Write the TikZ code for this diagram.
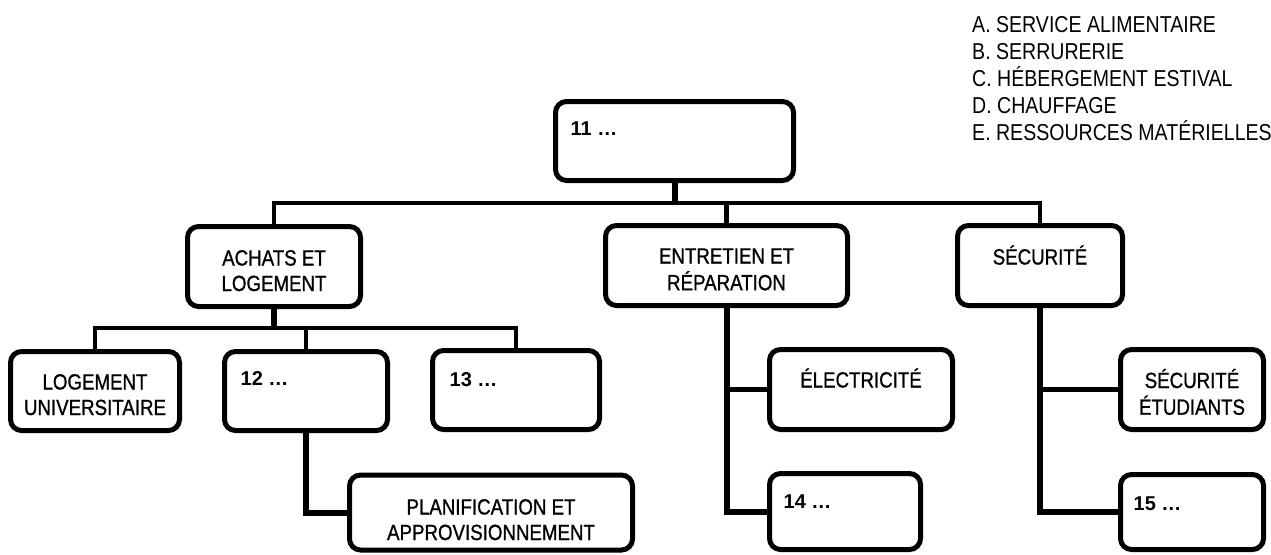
\documentclass[tikz,border=0pt]{standalone}
\usepackage{fontspec}
\setmainfont{Liberation Sans}
\newfontfamily\narrowfont[FakeStretch=0.85]{Liberation Sans}
\newfontfamily\labelfont[FakeStretch=0.85,FakeBold=0.9]{Liberation Sans}
\usetikzlibrary{calc}
\tikzset{
  orgbox/.style={draw=black, line width=5pt, rounded corners=11pt, inner sep=0pt, fill=white},
  conn/.style={draw=black, line width=4.5pt},
  thickconn/.style={draw=black, line width=6pt},
  lbl/.style={inner sep=0pt, anchor=base, align=center, font=\labelfont\fontsize{22}{25.5}\selectfont},
  num/.style={inner sep=0pt, anchor=base west, font=\bfseries\fontsize{20}{24}\selectfont},
  legendtext/.style={inner sep=0pt, anchor=base west, font=\narrowfont\fontsize{23}{27}\selectfont},
}
\newcommand{\twolines}[2]{\begin{tabular}[t]{@{}c@{}}#1\\#2\end{tabular}}
\begin{document}
\begin{tikzpicture}[x=1pt, y=-1pt]
\useasboundingbox (0,0) rectangle (1271,554);
\fill[white] (0,0) rectangle (1271,554);

\coordinate (bar) at (674.5,203);
\coordinate (sub) at (274,328);

% boxes
\node[orgbox, minimum width=238pt, minimum height=79pt] (n11) at (674.5,141) {};
\node[orgbox, minimum width=173pt, minimum height=80pt] (achats) at (274,266.5) {};
\node[orgbox, minimum width=242pt, minimum height=80pt] (entretien) at (726.5,265.5) {};
\node[orgbox, minimum width=165pt, minimum height=80pt] (secu) at (1040,265.5) {};
\node[orgbox, minimum width=169pt, minimum height=79pt] (logement) at (95,391) {};
\node[orgbox, minimum width=163pt, minimum height=79pt] (n12) at (306,391) {};
\node[orgbox, minimum width=167pt, minimum height=79pt] (n13) at (516,390) {};
\node[orgbox, minimum width=183pt, minimum height=80pt] (elec) at (861,389.5) {};
\node[orgbox, minimum width=143pt, minimum height=80pt] (etud) at (1192,389.5) {};
\node[orgbox, minimum width=283pt, minimum height=75pt] (planif) at (491,512.5) {};
\node[orgbox, minimum width=151pt, minimum height=76pt] (n14) at (845,511.5) {};
\node[orgbox, minimum width=143pt, minimum height=75pt] (n15) at (1192,512) {};

% connectors
\draw[thickconn] (n11.south) -- (bar);
\draw[conn] (achats.north) |- (bar) -| (secu.north);
\draw[conn] (entretien.north) -- (entretien.north |- bar);
\draw[thickconn] (achats.south) -- (sub);
\draw[conn] (logement.north) |- (sub) -| (n13.north);
\draw[conn] (n12.north) -- (n12.north |- sub);
\draw[thickconn] (n12.south) |- (planif.west);
\draw[thickconn] (entretien.south) |- (n14.west);
\draw[conn] (entretien.south |- elec.west) -- (elec.west);
\draw[thickconn] (secu.south) |- (n15.west);
\draw[conn] (secu.south |- etud.west) -- (etud.west);

% box texts
\node[num] (t11) at ($(n11.north west)+(17.5,36.5)$) {11 …};
\node[num] (t12) at ($(n12.north west)+(18.5,36.5)$) {12 …};
\node[num] (t13) at ($(n13.north west)+(19.5,38.5)$) {13 …};
\node[num] (t14) at ($(n14.north west)+(16.5,37.5)$) {14 …};
\node[num] (t15) at ($(n15.north west)+(15.5,38.5)$) {15 …};
\node[lbl] (tachats) at ($(achats.north)+(0,41.5)$) {\twolines{ACHATS ET}{LOGEMENT}};
\node[lbl] (tentretien) at ($(entretien.north)+(0,40.5)$) {\twolines{ENTRETIEN ET}{RÉPARATION}};
\node[lbl] (tsecu) at ($(secu.north)+(0,41.5)$) {SÉCURITÉ};
\node[lbl] (tlogement) at ($(logement.north)+(0,40.5)$) {\twolines{LOGEMENT}{UNIVERSITAIRE}};
\node[lbl] (telec) at ($(elec.north)+(0,40.5)$) {ÉLECTRICITÉ};
\node[lbl] (tetud) at ($(etud.north)+(0,41)$) {\twolines{SÉCURITÉ}{ÉTUDIANTS}};
\node[lbl] (tplanif) at ($(planif.north)+(0,42)$) {\twolines{PLANIFICATION ET}{APPROVISIONNEMENT}};

% legend
\node[legendtext] (la) at (972,32) {A. SERVICE ALIMENTAIRE};
\node[legendtext] (lb) at (972,59) {B. SERRURERIE};
\node[legendtext] (lc) at (972,86) {C. HÉBERGEMENT ESTIVAL};
\node[legendtext] (ld) at (972,113) {D. CHAUFFAGE};
\node[legendtext] (le) at (972,140) {E. RESSOURCES MATÉRIELLES};
\end{tikzpicture}
\end{document}
